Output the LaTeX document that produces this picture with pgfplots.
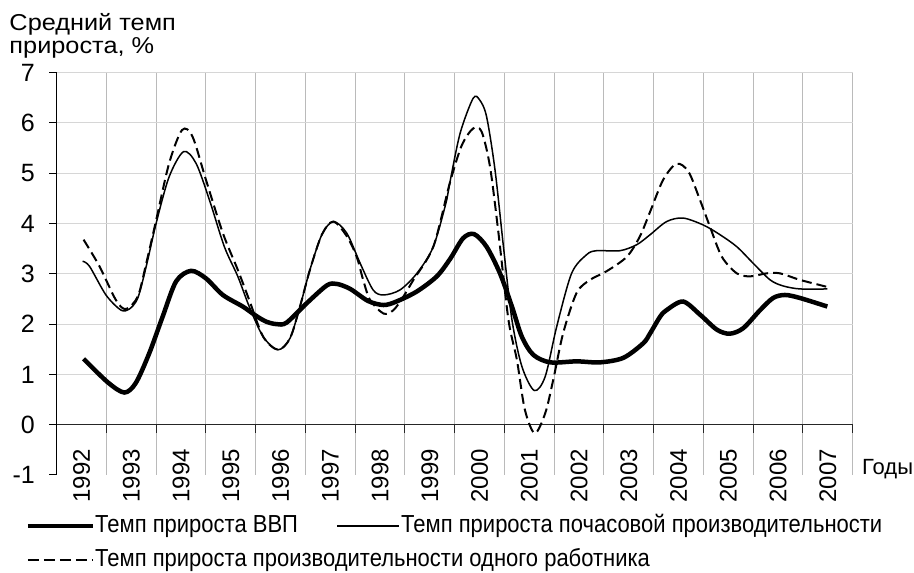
\documentclass[border=0pt]{standalone}
\usepackage{pgfplots}
\pgfplotsset{compat=1.18}
\usepackage{fontspec}
\setmainfont{Liberation Sans}
\begin{document}
\begin{tikzpicture}[x=1pt,y=1pt]
\useasboundingbox (-56.7,-98) rectangle (857.3,475);
\begin{axis}[
  at={(0,0)}, anchor=south west,
  scale only axis, width=796pt, height=402.3pt,
  xmin=-0.5, xmax=15.5, ymin=-1, ymax=7,
  axis lines*=left, axis line style={draw=none},
  tick style={draw=none}, major tick length=0pt, minor tick length=0pt,
  xtick={0,...,15},
  xticklabels={1992,1993,1994,1995,1996,1997,1998,1999,2000,2001,2002,2003,2004,2005,2006,2007},
  ytick={-1,0,...,7},
  /pgf/number format/assume math mode=true,
  ticklabel style={font=\fontsize{24}{24}\selectfont},
  yticklabel style={anchor=east, inner sep=0pt, xshift=-21.7pt, font=\fontsize{25}{25}\selectfont},
  xticklabel style={rotate=90, anchor=east, inner sep=0pt},
  xticklabel shift=-26pt,
  clip=false,
]
\pgfplotsinvokeforeach{0.5,1.5,...,15.5}{\draw[black!27, line width=1pt] (axis cs:#1,-1) -- (axis cs:#1,7);}
\pgfplotsinvokeforeach{1,...,7}{\draw[black!16, line width=1pt] (axis cs:-0.5,#1) -- (axis cs:15.5,#1);}
\draw[black!85, line width=1pt] (axis cs:-0.5,0) -- (axis cs:15.5,0);
\pgfplotsinvokeforeach{0.5,1.5,...,15.5}{\draw[black!85, line width=1pt] (axis cs:#1,0) -- ++(0pt,-8pt);}
\draw[black, line width=1pt] (axis cs:-0.5,-1) -- (axis cs:-0.5,7);
\pgfplotsinvokeforeach{-1,...,7}{\draw[black, line width=1pt] (axis cs:-0.5,#1) -- ++(-8pt,0pt);}

% productivity per worker (dashed)
\addplot[black, line width=2pt, dash pattern=on 10pt off 5pt, smooth, tension=0.5] coordinates {
(0.04,3.68) (0.36,3.15) (0.69,2.48) (0.89,2.30) (1.13,2.55) (1.30,3.21) (1.50,4.07) (1.76,5.20)
(2.02,5.86) (2.23,5.73) (2.50,4.87) (2.84,3.81) (3.14,3.08) (3.37,2.48) (3.65,1.75) (3.95,1.49)
(4.19,1.72) (4.39,2.35) (4.59,3.08) (4.83,3.78) (5.06,4.04) (5.33,3.75) (5.53,3.34) (5.66,2.88)
(5.80,2.48) (6.07,2.21) (6.27,2.28) (6.47,2.55) (6.67,2.88) (7.07,3.54) (7.40,4.80) (7.64,5.55)
(7.87,5.89) (8.04,5.83) (8.21,5.13) (8.38,3.81) (8.58,2.09) (8.75,1.29) (8.91,0.30) (9.11,-0.17)
(9.32,0.23) (9.48,0.89) (9.68,1.82) (9.95,2.62) (10.22,2.88) (10.55,3.05) (10.96,3.34) (11.22,3.74)
(11.43,4.24) (11.69,4.87) (11.96,5.19) (12.20,5.03) (12.43,4.47) (12.63,3.94) (12.87,3.34) (13.17,3.01)
(13.44,2.95) (13.77,3.01) (14.04,3.01) (14.44,2.88) (14.99,2.74)
};
% hourly productivity (thin)
\addplot[black, line width=1.5pt, smooth, tension=0.5] coordinates {
(0.02,3.25) (0.16,3.15) (0.49,2.58) (0.79,2.28) (0.96,2.30) (1.13,2.52) (1.30,3.15) (1.50,4.01)
(1.76,4.93) (2.05,5.43) (2.30,5.20) (2.57,4.47) (2.87,3.54) (3.14,2.95) (3.37,2.35) (3.65,1.75)
(3.95,1.49) (4.19,1.72) (4.39,2.35) (4.59,3.08) (4.83,3.78) (5.06,4.04) (5.33,3.81) (5.60,3.21)
(5.86,2.68) (6.07,2.58) (6.40,2.68) (6.74,3.01) (7.07,3.54) (7.34,4.47) (7.41,4.85) (7.61,5.80)
(7.87,6.49) (8.00,6.46) (8.14,6.13) (8.31,5.07) (8.48,3.54) (8.65,2.09) (8.85,1.16) (9.10,0.68)
(9.32,0.96) (9.55,1.95) (9.85,3.01) (10.15,3.38) (10.35,3.46) (10.82,3.46) (11.16,3.58) (11.43,3.78)
(11.76,4.04) (12.09,4.11) (12.50,3.97) (12.83,3.78) (13.17,3.54) (13.50,3.21) (13.84,2.88) (14.10,2.76)
(14.44,2.70) (14.99,2.70)
};
% GDP (thick)
\addplot[black, line width=4.5pt, smooth, tension=0.5] coordinates {
(0.04,1.31) (0.53,0.84) (0.86,0.64) (1.09,0.83) (1.36,1.42) (1.63,2.15) (1.90,2.85) (2.20,3.06)
(2.50,2.91) (2.84,2.58) (3.24,2.35) (3.50,2.17) (3.71,2.05) (3.92,2.00) (4.12,2.03) (4.53,2.42)
(4.93,2.77) (5.13,2.80) (5.40,2.70) (5.76,2.46) (6.07,2.38) (6.33,2.45) (6.74,2.65) (7.14,2.95)
(7.41,3.30) (7.67,3.71) (7.89,3.79) (8.14,3.54) (8.41,3.01) (8.65,2.35) (8.85,1.75) (9.08,1.39)
(9.42,1.24) (9.95,1.26) (10.42,1.24) (10.89,1.33) (11.29,1.62) (11.43,1.82) (11.63,2.15) (11.76,2.28)
(12.09,2.45) (12.43,2.19) (12.77,1.89) (13.03,1.81) (13.30,1.92) (13.64,2.28) (13.90,2.52) (14.14,2.58)
(14.44,2.52) (14.99,2.35)
};
\end{axis}
\tikzset{lab/.style={anchor=base west, inner sep=0pt, font=\fontsize{22}{22}\selectfont}}
\draw[line width=4.5pt] (-28.7,-51) -- (36.3,-51);
\node[lab] at (38.3,-58) {\scalebox{1}[1.12]{Темп прироста ВВП}};
\draw[line width=1.5pt] (280.3,-51) -- (342.3,-51);
\node[lab] at (344.3,-58) {\scalebox{1}[1.12]{Темп прироста почасовой производительности}};
\draw[line width=2pt, dash pattern=on 11pt off 5pt] (-28.7,-85) -- (36.3,-85);
\node[lab] at (38.3,-92) {\scalebox{1}[1.12]{Темп прироста производительности одного работника}};
\node[lab] at (805.3,0.5) {Годы};
\node[lab, font=\fontsize{23}{23}\selectfont] at (-47.4,444) {\scalebox{1.1}[1]{Средний темп}};
\node[lab, font=\fontsize{23}{23}\selectfont] at (-47.4,421.5) {\scalebox{1.1}[1]{прироста, \%}};
\end{tikzpicture}
\end{document}
